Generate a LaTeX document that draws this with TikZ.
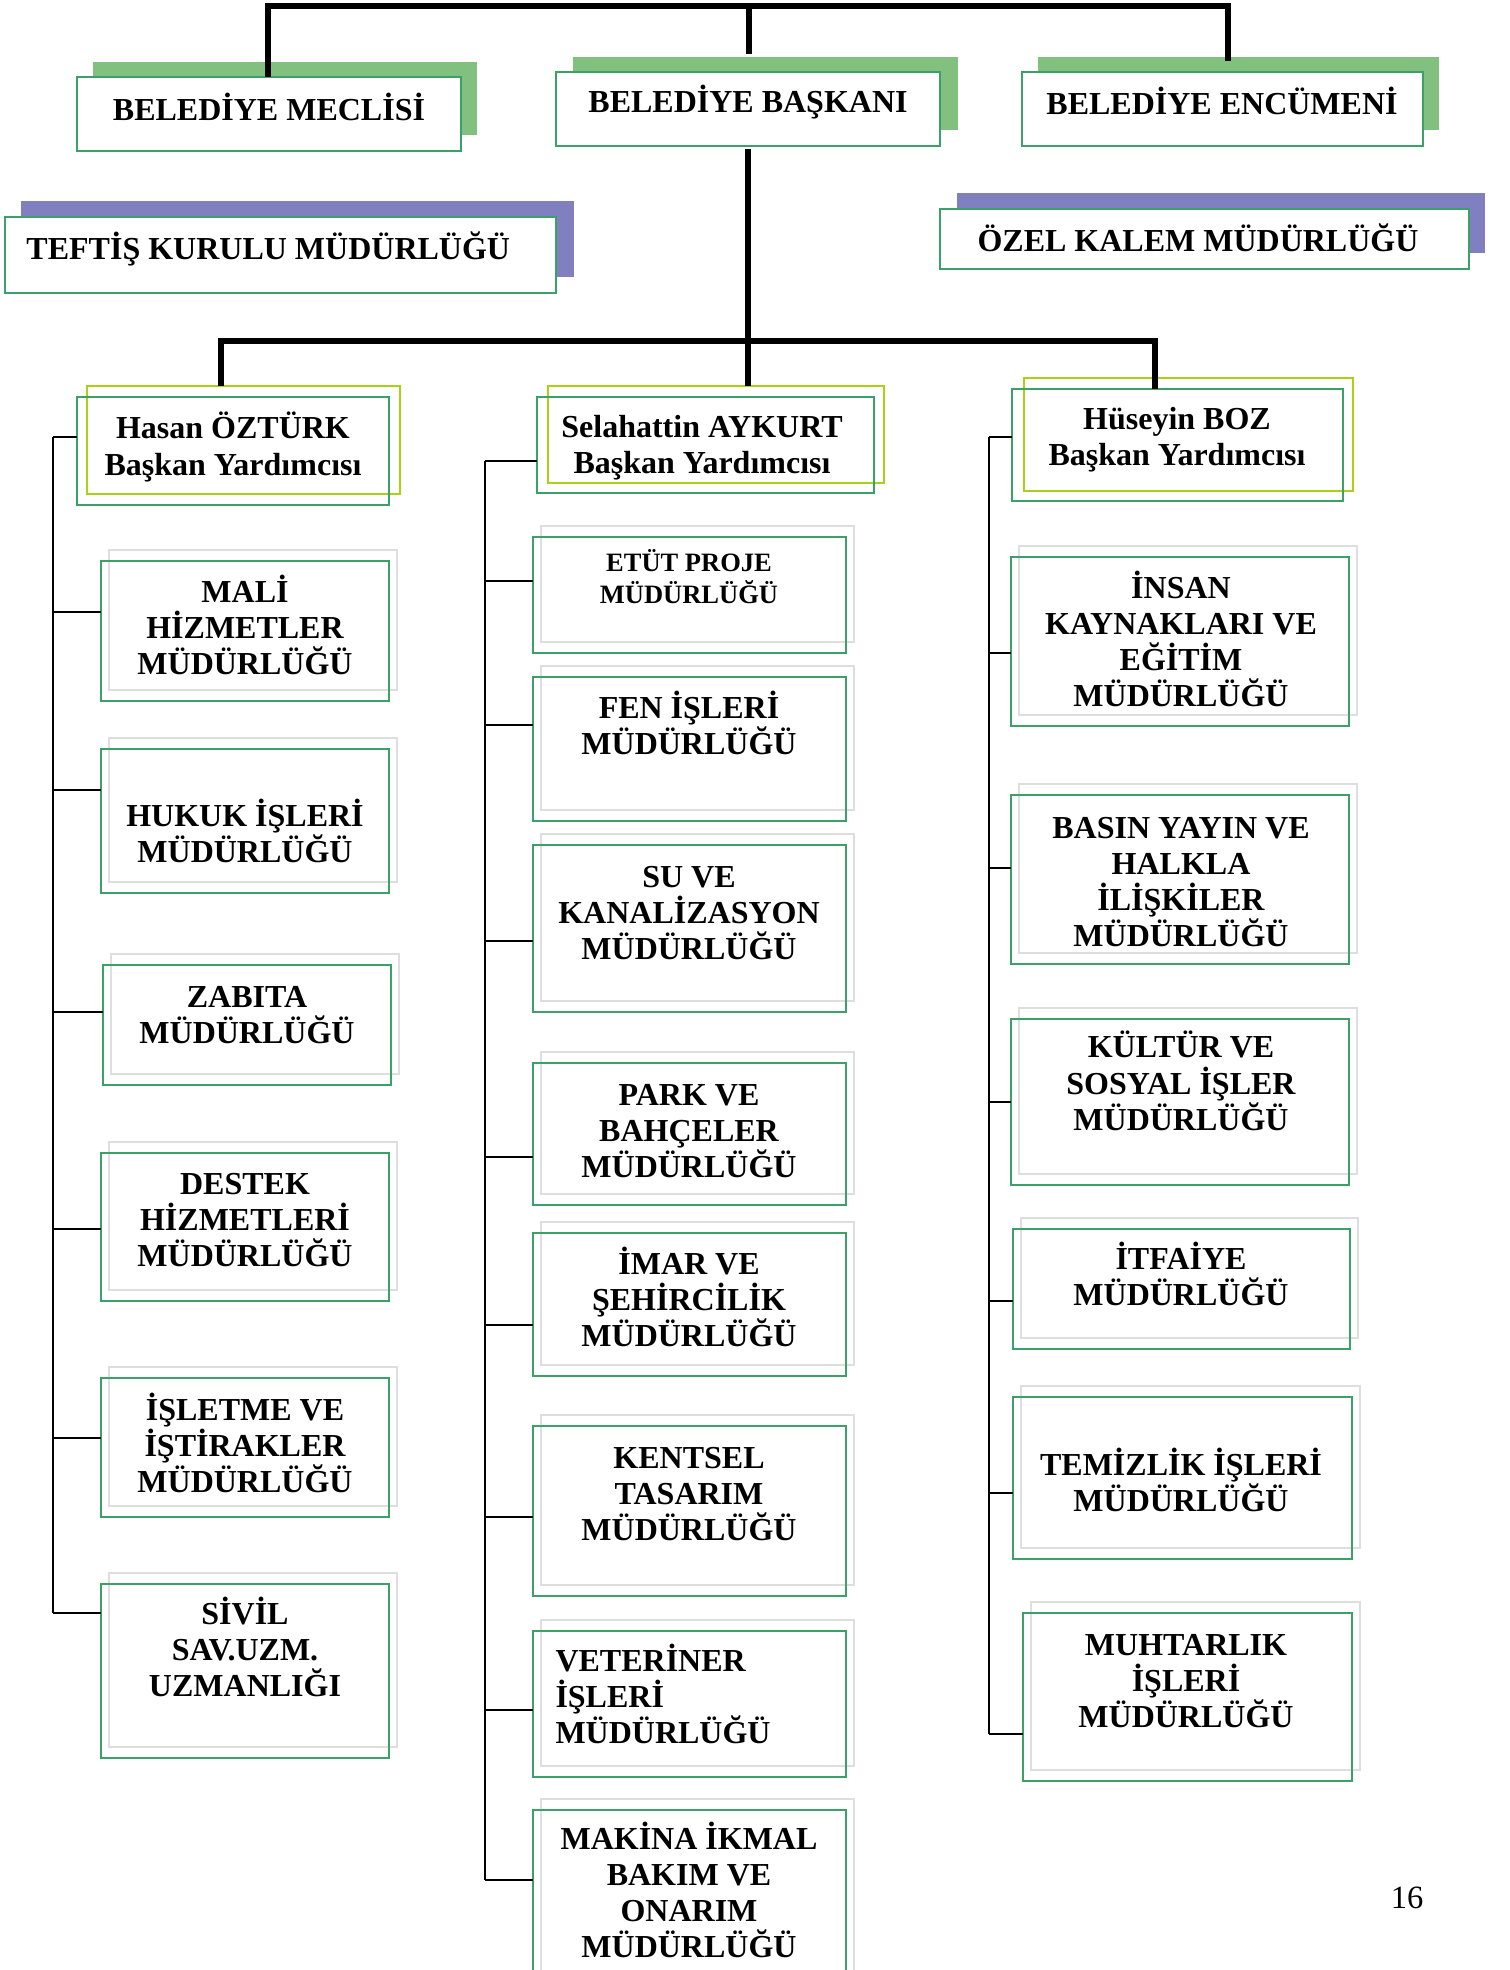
\documentclass[tikz,border=0pt]{standalone}
\usepackage{fontspec}
\setmainfont{Liberation Serif}
\definecolor{gcol}{RGB}{60,160,105}
\definecolor{graycol}{RGB}{222,222,222}
\definecolor{limecol}{RGB}{170,210,20}
\definecolor{shgreen}{RGB}{130,192,128}
\definecolor{shpurple}{RGB}{128,128,192}
\tikzset{
  thickln/.style={line width=2.2pt, black},
  stub/.style={line width=0.9pt, black},
  gbox/.style={draw=gcol, line width=0.9pt, inner sep=0pt, outer sep=0pt},
  graybox/.style={draw=graycol, line width=0.9pt},
  limebox/.style={draw=limecol, line width=0.9pt, inner sep=0pt, outer sep=0pt},
  topbox/.style={draw=gcol, fill=white, line width=0.9pt, inner sep=0pt, outer sep=0pt},
  shadowg/.style={fill=shgreen, inner sep=0pt, outer sep=0pt},
  shadowp/.style={fill=shpurple, inner sep=0pt, outer sep=0pt},
  txt/.style={font=\bfseries\fontsize{12.8}{14.5}\selectfont, align=center, inner sep=0pt},
  smalltxt/.style={font=\bfseries\fontsize{10.6}{12.8}\selectfont, align=center, inner sep=0pt},
}
\newcommand\rectnode[6]{%
  \node[#1, minimum width={(#5-#3)*0.4pt}, minimum height={(#6-#4)*0.4pt}] (#2) at ({(#3+#5)/2},{(#4+#6)/2}) {};}
\newcommand\orgbox[7]{%
  \draw[graybox] ({#2+8},{#3-11}) rectangle ({#4+8},{#5-11});
  \rectnode{gbox}{#1}{#2}{#3}{#4}{#5}
  \coordinate (#1c) at (#2,#6);
  \draw[stub] (#7 |- #1c) -- (#1c);}
\begin{document}
\begin{tikzpicture}[x=0.4pt,y=-0.4pt]
\useasboundingbox (0,0) rectangle (1510,1970);
\clip (0,0) rectangle (1510,1970);

% ---- top level shadows and boxes
\rectnode{shadowg}{meclisS}{93}{62}{477}{135}
\rectnode{shadowg}{baskanS}{573}{57}{958}{130}
\rectnode{shadowg}{encS}{1038}{57}{1439}{130}
\rectnode{shadowp}{teftisS}{21}{201}{574}{277}
\rectnode{shadowp}{ozelS}{957}{193}{1485}{253}
\rectnode{topbox}{meclis}{77}{77}{461}{151}
\rectnode{topbox}{baskan}{556}{72}{940}{146}
\rectnode{topbox}{enc}{1022}{72}{1423}{146}
\rectnode{topbox}{teftis}{5}{217}{556}{293}
\rectnode{topbox}{ozel}{940}{209}{1469}{269}
\node[txt] (meclisT) at (269,107) {BELEDİYE MECLİSİ};
\node[txt] (baskanT) at (748,102) {BELEDİYE BAŞKANI};
\node[txt] (encT) at (1222,101) {BELEDİYE ENCÜMENİ};
\node[txt, anchor=west] (teftisT) at (26,249) {TEFTİŞ KURULU MÜDÜRLÜĞÜ};
\node[txt, anchor=west] (ozelT) at (977,238) {ÖZEL KALEM MÜDÜRLÜĞÜ};

% ---- top connectors
\coordinate (topL) at (268,6);
\coordinate (topM) at (749,6);
\coordinate (topR) at (1228,6);
\draw[thickln] (meclis.north -| topL) -- (topL) -- (topR) -- ([yshift=-1.6pt]encS.north -| topR);
\draw[thickln] (topM) -- ([yshift=1.2pt]baskanS.north -| topM);

% ---- vice presidents
\rectnode{limebox}{hasanL}{87}{386}{400}{494}
\rectnode{gbox}{hasan}{77}{397}{389}{505}
\rectnode{limebox}{selL}{548}{386}{884}{483}
\rectnode{gbox}{sel}{537}{397}{874}{493}
\rectnode{limebox}{husL}{1024}{378}{1353}{491}
\rectnode{gbox}{hus}{1012}{389}{1343}{501}
\node[txt] (hasanT) at (233,447) {Hasan ÖZTÜRK\\Başkan Yardımcısı};
\node[txt] (selT) at (702,448) {Selahattin AYKURT\\Başkan Yardımcısı};
\node[txt] (husT) at (1177,440) {Hüseyin BOZ\\Başkan Yardımcısı};

\coordinate (hL) at (221,341);
\coordinate (hR) at (1155,341);
\draw[thickln] (hasanL.north -| hL) -- (hL) -- (hR) -- (hus.north -| hR);
\draw[thickln] ([yshift=-1.2pt]baskan.south) -- (selL.north -| baskan.south);

% ---- trunks
\coordinate (tL) at (53,437);
\coordinate (tM) at (485,461);
\coordinate (tR) at (989,437);
\draw[stub] (tL) -- (tL -| hasan.west);
\draw[stub] (tM) -- (tM -| sel.west);
\draw[stub] (tR) -- (tR -| hus.west);

% ---- left column
\orgbox{mali}{101}{561}{389}{701}{612}{tL}
\orgbox{hukuk}{101}{749}{389}{893}{790}{tL}
\orgbox{zabita}{103}{965}{391}{1085}{1012}{tL}
\orgbox{destek}{101}{1153}{389}{1301}{1229}{tL}
\orgbox{isletme}{101}{1378}{389}{1517}{1438}{tL}
\orgbox{sivil}{101}{1584}{389}{1758}{1613}{tL}
\draw[stub] (tL) -- (tL |- sivilc);
\node[txt] (maliT) at (245,625) {MALİ\\HİZMETLER\\MÜDÜRLÜĞÜ};
\node[txt] (hukukT) at (245,831) {HUKUK İŞLERİ\\MÜDÜRLÜĞÜ};
\node[txt] (zabitaT) at (247,1015) {ZABITA\\MÜDÜRLÜĞÜ};
\node[txt] (destekT) at (245,1220) {DESTEK\\HİZMETLERİ\\MÜDÜRLÜĞÜ};
\node[txt] (isletmeT) at (245,1443) {İŞLETME VE\\İŞTİRAKLER\\MÜDÜRLÜĞÜ};
\node[txt] (sivilT) at (245,1647) {SİVİL\\SAV.UZM.\\UZMANLIĞI};

% ---- middle column
\orgbox{etut}{533}{537}{846}{653}{581}{tM}
\orgbox{fen}{533}{677}{846}{821}{725}{tM}
\orgbox{su}{533}{845}{846}{1012}{941}{tM}
\orgbox{park}{533}{1063}{846}{1205}{1157}{tM}
\orgbox{imar}{533}{1233}{846}{1376}{1325}{tM}
\orgbox{kentsel}{533}{1426}{846}{1596}{1517}{tM}
\orgbox{veteriner}{533}{1631}{846}{1777}{1710}{tM}
\orgbox{makina}{533}{1810}{846}{1990}{1880}{tM}
\draw[stub] (tM) -- (tM |- makinac);
\node[smalltxt] (etutT) at (689,577) {ETÜT PROJE\\MÜDÜRLÜĞÜ};
\node[txt] (fenT) at (689,723) {FEN İŞLERİ\\MÜDÜRLÜĞÜ};
\node[txt] (suT) at (689,913) {SU VE\\KANALİZASYON\\MÜDÜRLÜĞÜ};
\node[txt] (parkT) at (689,1131) {PARK VE\\BAHÇELER\\MÜDÜRLÜĞÜ};
\node[txt] (imarT) at (689,1297) {İMAR VE\\ŞEHİRCİLİK\\MÜDÜRLÜĞÜ};
\node[txt] (kentselT) at (689,1494) {KENTSEL\\TASARIM\\MÜDÜRLÜĞÜ};
\node[txt, align=left, anchor=west] (veterinerT) at (555,1694) {VETERİNER\\İŞLERİ\\MÜDÜRLÜĞÜ};
\node[txt] (makinaT) at (689,1890) {MAKİNA İKMAL\\BAKIM VE\\ONARIM\\MÜDÜRLÜĞÜ};

% ---- right column
\orgbox{insan}{1011}{557}{1349}{726}{653}{tR}
\orgbox{basin}{1011}{795}{1349}{964}{868}{tR}
\orgbox{kultur}{1011}{1019}{1349}{1185}{1102}{tR}
\orgbox{itfaiye}{1013}{1229}{1350}{1349}{1301}{tR}
\orgbox{temizlik}{1013}{1397}{1352}{1559}{1493}{tR}
\orgbox{muhtar}{1023}{1613}{1352}{1781}{1734}{tR}
\draw[stub] (tR) -- (tR |- muhtarc);
\node[txt] (insanT) at (1181,639) {İNSAN\\KAYNAKLARI VE\\EĞİTİM\\MÜDÜRLÜĞÜ};
\node[txt] (basinT) at (1181,882) {BASIN YAYIN VE\\HALKLA\\İLİŞKİLER\\MÜDÜRLÜĞÜ};
\node[txt] (kulturT) at (1181,1081) {KÜLTÜR VE\\SOSYAL İŞLER\\MÜDÜRLÜĞÜ};
\node[txt] (itfaiyeT) at (1181,1274) {İTFAİYE\\MÜDÜRLÜĞÜ};
\node[txt] (temizlikT) at (1181,1480) {TEMİZLİK İŞLERİ\\MÜDÜRLÜĞÜ};
\node[txt] (muhtarT) at (1186,1681) {MUHTARLIK\\İŞLERİ\\MÜDÜRLÜĞÜ};

% ---- page number
\node[font=\fontsize{13}{15}\selectfont, inner sep=0pt] (pnum) at (1407,1898) {16};
\end{tikzpicture}
\end{document}
